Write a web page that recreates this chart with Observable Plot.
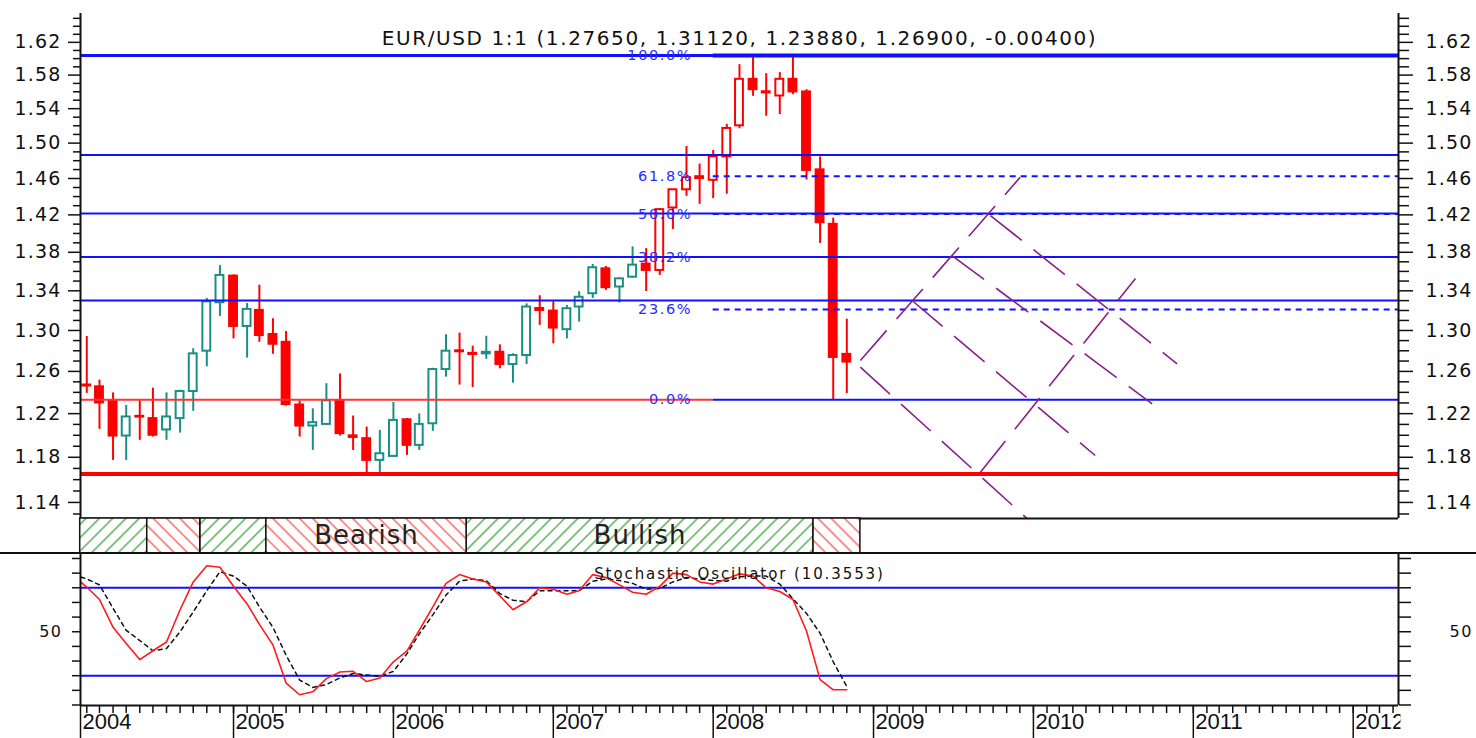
<!DOCTYPE html>
<html><head><meta charset="utf-8">
<script src="https://cdn.jsdelivr.net/npm/d3@7"></script>
<script src="https://cdn.jsdelivr.net/npm/@observablehq/plot@0.6"></script>
<style>
html,body{margin:0;padding:0;background:#fff;}
#chart{position:relative;width:1476px;height:738px;overflow:hidden;background:#fff;}
#chart > div{position:absolute;left:0;}
#chart svg{display:block;}
#main{top:0;} #bands{top:518px;} #stoch{top:553px;}
#divider{top:552px;width:1476px;height:2px;background:#111;}
</style></head>
<body><div id="chart"><div id="main"></div><div id="bands"></div><div id="stoch"></div><div id="divider"></div></div>
<script>
// ---------------- DATA ----------------
const titleText = "EUR/USD 1:1 (1.27650, 1.31120, 1.23880, 1.26900, -0.00400)";
const stochTitle = "Stochastic Oscillator (10.3553)";

const months = ["2004-02","2004-03","2004-04","2004-05","2004-06","2004-07","2004-08","2004-09","2004-10","2004-11","2004-12",
"2005-01","2005-02","2005-03","2005-04","2005-05","2005-06","2005-07","2005-08","2005-09","2005-10","2005-11","2005-12",
"2006-01","2006-02","2006-03","2006-04","2006-05","2006-06","2006-07","2006-08","2006-09","2006-10","2006-11","2006-12",
"2007-01","2007-02","2007-03","2007-04","2007-05","2007-06","2007-07","2007-08","2007-09","2007-10","2007-11","2007-12",
"2008-01","2008-02","2008-03","2008-04","2008-05","2008-06","2008-07","2008-08","2008-09","2008-10","2008-11"];

const open = [1.2470,1.2453,1.2316,1.1993,1.2175,1.2154,1.2049,1.2154,1.2408,1.2796,1.3278,
1.3551,1.3040,1.3201,1.2960,1.2883,1.2281,1.2085,1.2100,1.2320,1.1995,1.1969,1.1772,
1.1808,1.2143,1.1908,1.2106,1.2618,1.2800,1.2775,1.2770,1.2786,1.2667,1.2754,1.3220,
1.3194,1.3008,1.3235,1.3370,1.3627,1.3439,1.3540,1.3676,1.3610,1.4275,1.4475,1.4620,
1.4580,1.4844,1.5200,1.5749,1.5600,1.5550,1.5749,1.5598,1.4697,1.4098,1.2765];
const high = [1.2940,1.2516,1.2395,1.2277,1.2321,1.2440,1.2395,1.2420,1.2820,1.3322,1.3660,
1.3565,1.3270,1.3457,1.3117,1.2990,1.2317,1.2245,1.2482,1.2576,1.2178,1.2075,1.2045,
1.2304,1.2155,1.2198,1.2630,1.2958,1.2974,1.2845,1.2943,1.2858,1.2770,1.3267,1.3350,
1.3288,1.3251,1.3391,1.3672,1.3651,1.3530,1.3857,1.3839,1.4268,1.4478,1.4961,1.4762,
1.4917,1.5217,1.5926,1.6040,1.5818,1.5830,1.6038,1.5625,1.4843,1.4165,1.3112];
const low = [1.2390,1.2054,1.1772,1.1772,1.1954,1.1984,1.1954,1.2020,1.2222,1.2644,1.3140,
1.2917,1.2729,1.2883,1.2766,1.2270,1.1984,1.1862,1.2090,1.1993,1.1862,1.1650,1.1660,
1.1802,1.1817,1.1862,1.2036,1.2545,1.2469,1.2446,1.2716,1.2625,1.2487,1.2667,1.3050,
1.2868,1.2917,1.3083,1.3321,1.3404,1.3276,1.3530,1.3393,1.3558,1.4042,1.4403,1.4315,
1.4377,1.4426,1.5165,1.5546,1.5311,1.5330,1.5566,1.4584,1.3893,1.2330,1.2388];
const close = [1.2460,1.2300,1.1993,1.2169,1.2168,1.2000,1.2169,1.2408,1.2770,1.3288,1.3558,
1.3040,1.3211,1.2950,1.2864,1.2285,1.2085,1.2116,1.2320,1.2015,1.1980,1.1772,1.1832,
1.2137,1.1908,1.2100,1.2618,1.2796,1.2790,1.2764,1.2785,1.2667,1.2754,1.3235,1.3200,
1.3024,1.3218,1.3334,1.3638,1.3432,1.3523,1.3665,1.3610,1.4257,1.4475,1.4609,1.4600,
1.4844,1.5169,1.5749,1.5625,1.5586,1.5749,1.5598,1.4690,1.4115,1.2735,1.2690];

// horizontal levels
const levelLines = [1.4865, 1.4215, 1.3750, 1.3301];
const topLevel = 1.6038;
const supportLevel = 1.1650;
const fibStartMonth = "2008-01-01";
const fibLabels = ["100.0%", "61.8%", "50.0%", "38.2%", "23.6%", "0.0%"];
const fibValues = [1.6038, 1.4625, 1.4210, 1.3750, 1.3210, 1.2330];

// dashed projection lines (start date, start price, end date, end price)
const gannX1 = ["2008-12-02","2009-09-02","2008-12-02","2009-03-30","2009-06-29","2009-09-25"];
const gannY1 = [1.2705, 1.1666, 1.2641, 1.3301, 1.3766, 1.4193];
const gannX2 = ["2009-12-02","2010-08-22","2009-12-17","2010-05-22","2010-09-29","2010-11-25"];
const gannY2 = [1.4615, 1.3527, 1.1262, 1.1816, 1.2292, 1.2673];

// trend bands
const bandStart = ["2004-01-17","2004-06-18","2004-10-17","2005-03-17","2006-06-17","2008-08-17"];
const bandEnd   = ["2004-06-18","2004-10-17","2005-03-17","2006-06-17","2008-08-17","2008-12-02"];
const bandTrend = ["bull","bear","bull","bear","bull","bear"];
const bandLabel = ["","","","Bearish","Bullish",""];

// stochastic oscillator (Jan 2004 .. Nov 2008)
const stochMonths = ["2004-01", ...months];
const stochK = [88,80.5,72,53,42,31,37,43,65,84,95,94,81,69,55,41,15,7,9,18,22.5,23,16,18.5,29.5,37,51,67,83,89,86,84,74.5,65,70.5,80,79,75.6,78,89,87,82,77,75.6,81,90,89,84,82.5,86,89.5,88,80,77.5,72,50.5,17.3,10.4,10.4];
const stochD = [89,86,82,66,51,44,37,38.5,50,63.5,78,91,88,81,67,53,34,17,12,14,18.5,21.5,20.5,19.5,23,35,48.5,61.5,75,84.5,86,84.8,76,71.5,70.5,78,78,78,78,84.5,86,85,83,79,79.5,84,87,86,85,84.5,87.5,88,88,82.5,72.5,62.5,49,29.5,12.6];
const stochLevels = [20, 80];

// ticks
const priceTicks = [1.14,1.18,1.22,1.26,1.30,1.34,1.38,1.42,1.46,1.50,1.54,1.58,1.62];
const stochTicks = [0,10,20,30,40,50,60,70,80,90,100];
const stochLabelTicks = [50];
const yearTicksList = [2004,2005,2006,2007,2008,2009,2010,2011,2012];

// ---------------- SETUP ----------------
const pm = d3.utcParse("%Y-%m");
const pd = d3.utcParse("%Y-%m-%d");
const xDomain = [new Date(Date.UTC(2004,0,17,16)), new Date(Date.UTC(2012,3,13,10))];
const yDomain = [1.1261, 1.6561];
const stochDomain = [-0.34, 103.4];
const W = 1476, ML = 80, MR = 78;
const RED = "#ff0000", TEAL = "#1a8f86", BLUE = "#1010ff", PURPLE = "#8a1f8a";
const fibStart = pd(fibStartMonth);
const switchDate = pm("2007-08");

const candles = months.map((m, i) => ({date: pm(m), open: open[i], high: high[i], low: low[i], close: close[i]}));
const candleColor = d => (d.date >= switchDate || d.close < d.open) ? RED : TEAL;
const candleFill = d => d.close < d.open ? RED : "#ffffff";
const fibs = fibLabels.map((l, i) => ({label: l, value: fibValues[i]}));
const fibDashed = fibs.filter(d => d.label !== "0.0%" && d.label !== "100.0%");
const gann = gannX1.map((x, i) => ({x1: pd(x), y1: gannY1[i], x2: pd(gannX2[i]), y2: gannY2[i]}));
const bands = bandStart.map((s, i) => ({start: pd(s), end: pd(bandEnd[i]), trend: bandTrend[i], label: bandLabel[i]}));
const stoch = stochMonths.map((m, i) => ({date: pm(m), k: stochK[i], d: stochD[i]}));
const minorPriceTicks = d3.range(113, 166).map(d => d / 100).filter(v => !priceTicks.some(t => Math.abs(t - v) < 1e-6));
const monthTicks = d3.utcMonth.range(pm("2004-02"), xDomain[1]);
const yearTicks = yearTicksList.map(y => y === 2004 ? xDomain[0] : new Date(Date.UTC(y, 0, 1)));

// ---------------- MAIN PRICE PANEL ----------------
const mainSvg = Plot.plot({
  width: W, height: 519, marginLeft: ML, marginRight: MR, marginTop: 13, marginBottom: 1,
  x: {type: "utc", domain: xDomain, axis: null},
  y: {type: "log", domain: yDomain},
  color: {type: "identity"},
  style: {fontFamily: "DejaVu Sans", fontSize: "20px", letterSpacing: "1.6px", background: "#fff", color: "#111", overflow: "visible"},
  marks: [
    Plot.ruleX(candles, {x: "date", y1: "low", y2: "high", stroke: candleColor, strokeWidth: 2}),
    Plot.rect(candles, {x1: d => d3.utcDay.offset(d.date, -9), x2: d => d3.utcDay.offset(d.date, 9), y1: "open", y2: "close", fill: candleFill, stroke: candleColor, strokeWidth: 2}),
    Plot.ruleY(levelLines, {stroke: BLUE, strokeWidth: 2}),
    Plot.ruleY([topLevel], {stroke: BLUE, strokeWidth: 3}),
    Plot.ruleY([supportLevel], {stroke: RED, strokeWidth: 4}),
    Plot.ruleY(fibs.filter(d => d.label === "0.0%"), {y: "value", x1: xDomain[0], x2: fibStart, stroke: "#ff3535", strokeWidth: 2}),
    Plot.ruleY(fibs.filter(d => d.label === "0.0%"), {y: "value", x1: fibStart, x2: xDomain[1], stroke: BLUE, strokeWidth: 2}),
    Plot.ruleY(fibs.filter(d => d.label === "100.0%"), {y: "value", x1: fibStart, x2: xDomain[1], stroke: BLUE, strokeWidth: 4}),
    Plot.ruleY(fibDashed, {y: "value", x1: fibStart, x2: xDomain[1], stroke: BLUE, strokeWidth: 2, strokeDasharray: "6,5"}),
    Plot.link(gann, {x1: "x1", y1: "y1", x2: "x2", y2: "y2", stroke: PURPLE, strokeWidth: 1.6, strokeDasharray: "40,15", clip: true}),
    Plot.text(fibs, {x: fibStart, y: "value", text: "label", dx: -21, textAnchor: "end", fill: "#2a2aff", fontSize: 14.5}),
    Plot.text([titleText], {frameAnchor: "top", dy: 17, text: d => d, fontSize: 20, fill: "#111"}),
    Plot.ruleX(xDomain, {stroke: "#111", strokeWidth: 2}),
    Plot.ruleY([yDomain[0]], {stroke: "#111", strokeWidth: 2}),
    Plot.axisY(minorPriceTicks, {anchor: "left", tickSize: 7, fill: "none", strokeWidth: 1.5, label: null}),
    Plot.axisY(priceTicks, {anchor: "left", tickSize: 12, tickPadding: 7, tickFormat: d3.format(".2f"), fontSize: 19, strokeWidth: 1.5, label: null}),
    Plot.axisY(minorPriceTicks, {anchor: "right", tickSize: 10, fill: "none", strokeWidth: 1.5, label: null}),
    Plot.axisY(priceTicks, {anchor: "right", tickSize: 14, tickPadding: 13, tickFormat: d3.format(".2f"), fontSize: 19, strokeWidth: 1.5, label: null})
  ]
});
d3.select(mainSvg).selectAll('g[aria-label="y-axis tick label"] text').style("letter-spacing", "1.2px");
document.getElementById("main").appendChild(mainSvg);

// ---------------- TREND BAND STRIP ----------------
const bandSvg = Plot.plot({
  width: W, height: 35, marginLeft: ML, marginRight: MR, marginTop: 0, marginBottom: 0,
  x: {type: "utc", domain: xDomain, axis: null},
  y: {domain: [0, 1], axis: null},
  style: {fontFamily: "DejaVu Sans", letterSpacing: "1px", background: "transparent", color: "#111", overflow: "visible"},
  marks: [
    Plot.rect(bands.filter(d => d.trend === "bull"), {x1: "start", x2: "end", y1: 0, y2: 1, fill: "url(#hatchBull)", stroke: "#111", strokeWidth: 1.5}),
    Plot.rect(bands.filter(d => d.trend === "bear"), {x1: "start", x2: "end", y1: 0, y2: 1, fill: "url(#hatchBear)", stroke: "#111", strokeWidth: 1.5}),
    Plot.text(bands.filter(d => d.label), {x: d => new Date((+d.start + +d.end) / 2), y: 0.5, text: "label", fontSize: 26, fill: "#222"})
  ]
});
{
  const defs = d3.select(bandSvg).insert("defs", ":first-child");
  const hatch = (id, color, angle) => {
    const s = 9.4;
    const p = defs.append("pattern").attr("id", id).attr("patternUnits", "userSpaceOnUse")
      .attr("width", s).attr("height", s).attr("patternTransform", `rotate(${angle})`);
    p.append("rect").attr("width", s).attr("height", s).attr("fill", "#fff");
    p.append("line").attr("x1", s / 2).attr("y1", 0).attr("x2", s / 2).attr("y2", s)
      .attr("stroke", color).attr("stroke-width", 1.2);
  };
  hatch("hatchBull", "#2e9e2e", 45);
  hatch("hatchBear", "#ff4444", -45);
}
document.getElementById("bands").appendChild(bandSvg);

// ---------------- STOCHASTIC PANEL ----------------
const stochSvg = Plot.plot({
  width: W, height: 185, marginLeft: ML, marginRight: MR, marginTop: 0, marginBottom: 33,
  x: {type: "utc", domain: xDomain},
  y: {domain: stochDomain},
  style: {fontFamily: "DejaVu Sans", background: "transparent", color: "#111", overflow: "visible"},
  marks: [
    Plot.ruleY(stochLevels, {stroke: BLUE, strokeWidth: 2}),
    Plot.line(stoch, {x: "date", y: "d", stroke: "#111", strokeWidth: 1.5, strokeDasharray: "4,4", clip: true}),
    Plot.line(stoch, {x: "date", y: "k", stroke: "#ff1a1a", strokeWidth: 1.6, clip: true}),
    Plot.text([stochTitle], {frameAnchor: "top", dy: 15, text: d => d, fontSize: 15, fill: "#111"}),
    Plot.ruleX(xDomain, {stroke: "#111", strokeWidth: 2}),
    Plot.ruleY([stochDomain[0]], {stroke: "#111", strokeWidth: 2}),
    Plot.axisY(stochTicks, {anchor: "left", tickSize: 8, fill: "none", strokeWidth: 1.5, label: null}),
    Plot.axisY(stochLabelTicks, {anchor: "left", tickSize: 0, tickPadding: 18, fontSize: 16, label: null}),
    Plot.axisY(stochTicks, {anchor: "right", tickSize: 12, fill: "none", strokeWidth: 1.5, label: null}),
    Plot.axisY(stochLabelTicks, {anchor: "right", tickSize: 0, tickPadding: 51, fontSize: 16, label: null}),
    Plot.axisX(monthTicks, {anchor: "bottom", tickSize: 8, fill: "none", strokeWidth: 1.5, label: null}),
    Plot.axisX(yearTicks, {anchor: "bottom", tickSize: 33, fill: "none", strokeWidth: 1.5, label: null}),
    Plot.axisX(yearTicks, {anchor: "bottom", tickSize: 0, tickPadding: 8, tickFormat: d3.utcFormat("%Y"), textAnchor: "start", dx: 2, fontSize: 22, fontFamily: "Liberation Sans", label: null})
  ]
});
{
  const s = d3.select(stochSvg);
  s.selectAll('g[aria-label="text"] text').style("letter-spacing", "1.9px");
  s.selectAll('g[aria-label="y-axis tick label"] text').style("letter-spacing", "1.5px");
  const defs = s.insert("defs", ":first-child");
  defs.append("clipPath").attr("id", "yearClip").append("rect")
    .attr("x", 0).attr("y", 0).attr("width", W - MR).attr("height", 185);
  s.selectAll('g[aria-label="x-axis tick label"]').attr("clip-path", "url(#yearClip)");
}
document.getElementById("stoch").appendChild(stochSvg);
</script>
</body></html>
